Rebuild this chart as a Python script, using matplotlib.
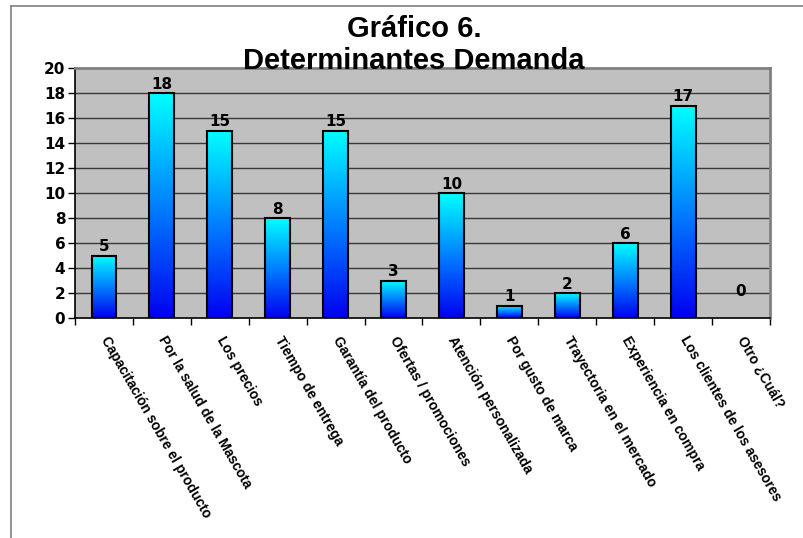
import numpy as np
import matplotlib
matplotlib.use("Agg")
import matplotlib.pyplot as plt
from matplotlib.colors import LinearSegmentedColormap
from matplotlib.lines import Line2D

categories = [
    "Capacitación sobre el producto",
    "Por la salud de la Mascota",
    "Los precios",
    "Tiempo de entrega",
    "Garantía del producto",
    "Ofertas / promociones",
    "Atención personalizada",
    "Por gusto de marca",
    "Trayectoria en el mercado",
    "Experiencia en compra",
    "Los clientes de los asesores",
    "Otro ¿Cuál?",
]
values = [5, 18, 15, 8, 15, 3, 10, 1, 2, 6, 17, 0]
yticks = list(range(0, 21, 2))
title = "Gráfico 6.\nDeterminantes Demanda"

W, H = 804, 538
fig = plt.figure(figsize=(W / 100, H / 100), dpi=100)
fig.patch.set_facecolor("white")

# outer chart frame
fig.add_artist(Line2D([11 / W, 11 / W], [0, 1 - 6 / H], color="#808080", lw=1.2,
                      transform=fig.transFigure))
fig.add_artist(Line2D([11 / W, 1], [1 - 6 / H, 1 - 6 / H], color="#808080", lw=1.2,
                      transform=fig.transFigure))

ax = fig.add_axes([75 / W, 1 - 318 / H, 695 / W, 250 / H])
ax.set_facecolor("#C0C0C0")

for y in yticks[1:-1]:
    ax.axhline(y, color="#3a3a3a", lw=1.0, zorder=1)

cmap = LinearSegmentedColormap.from_list("bc", ["#0000F0", "#0080FF", "#00FFFF"])
grad = np.linspace(0, 1, 256).reshape(-1, 1)
bw = 0.43
x = np.arange(len(categories))
vals = np.array(values)
nz = vals > 0
for xi, v in zip(x[nz], vals[nz]):
    ax.imshow(grad, cmap=cmap, origin="lower", aspect="auto",
              extent=[xi - bw / 2, xi + bw / 2, 0, v], zorder=2)
ax.bar(x[nz], vals[nz], width=bw, facecolor="none", edgecolor="black", lw=1.5, zorder=3)
ax.set_xlim(-0.5, len(categories) - 0.5)
ax.set_ylim(0, 20)

for xi, v in zip(x, values):
    off = 1 if v > 0 else 14
    ax.annotate(str(v), (xi, v), xytext=(0, off), textcoords="offset points",
                ha="center", va="bottom", fontsize=11, fontweight="bold",
                family="DejaVu Sans", zorder=4)

ax.set_yticks(yticks)
ax.set_yticklabels([str(t) for t in yticks], fontsize=11, fontweight="bold",
                   family="DejaVu Sans")
ax.tick_params(axis="y", direction="out", length=5, width=1, pad=2)

ax.set_xticks(x)
ax.set_xticklabels(categories, rotation=-60, ha="left", va="center",
                   rotation_mode="anchor", fontsize=10, fontweight="bold",
                   family="Liberation Sans")
ax.tick_params(axis="x", which="major", length=0, pad=14)
ax.set_xticks(np.arange(-0.5, len(categories) + 0.5, 1), minor=True)
ax.tick_params(axis="x", which="minor", direction="out", length=5, width=1)

for s in ["left", "bottom"]:
    ax.spines[s].set_color("black")
    ax.spines[s].set_linewidth(1.2)
for s in ["top", "right"]:
    ax.spines[s].set_color("#808080")
    ax.spines[s].set_linewidth(2)

fig.text(414 / W, 1 - 45 / H, title, ha="center", va="center", fontsize=21,
         fontweight="bold", family="Liberation Sans", linespacing=1.2)

fig.savefig("out.png", dpi=100)
